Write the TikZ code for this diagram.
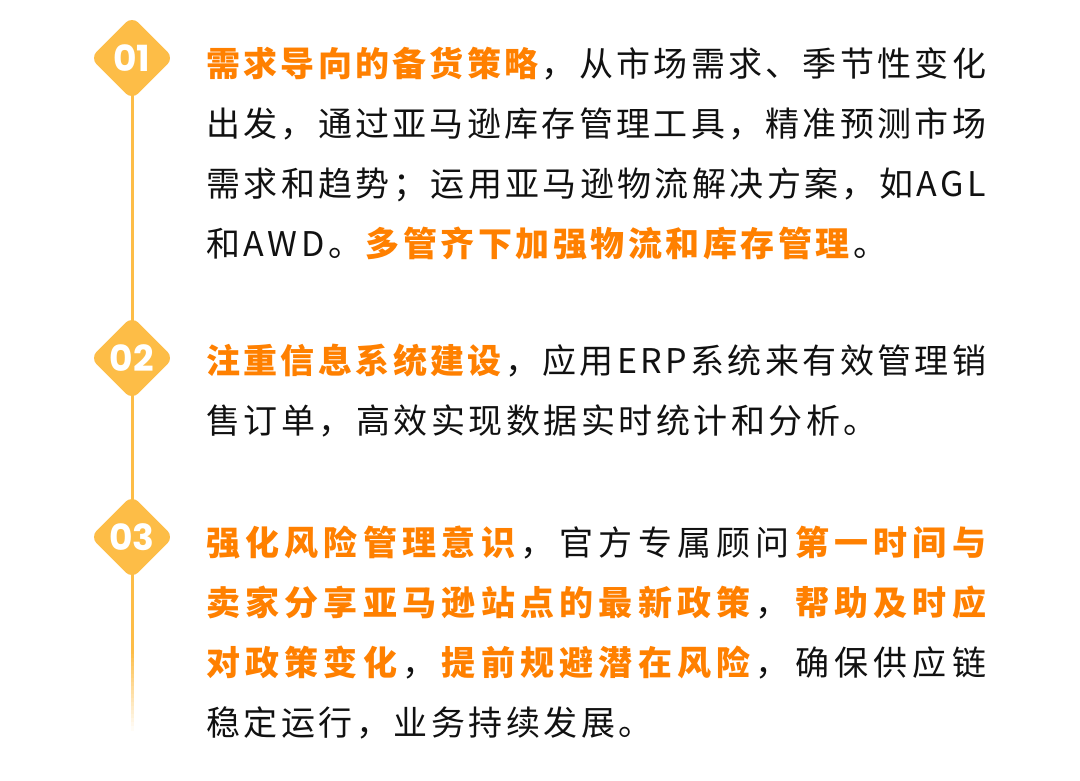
\documentclass[tikz,border=0pt]{standalone}
\usepackage{fontspec}
\setmainfont{Noto Sans CJK SC}
\newfontfamily\numfont{Poppins}
\definecolor{orn}{HTML}{FF8000}
\definecolor{txt}{HTML}{111111}
\definecolor{bcol}{HTML}{FDBD47}
\newif\iffirstch
\makeatletter
\def\trk{3.5pt}
\def\gl{\hskip\trk plus 1fil minus 1fil\relax}
\def\spr@end{\spr@end}
\def\spr#1{\spr@a#1\spr@end}
\def\spr@a#1{\ifx\spr@end#1\else\iffirstch\global\firstchfalse\else\gl\fi#1\expandafter\spr@a\fi}
\makeatother
\newcommand\ob[1]{{\bfseries\color{orn}\spr{#1}}}
\newcommand\nb[1]{{\color{txt}\spr{#1}}}
\newcommand\jline[1]{\global\firstchtrue\hbox to 780pt{#1}}
\newcommand\fline[1]{\global\firstchtrue\hbox{#1}}
\tikzset{
  ln/.style={anchor=base west, inner sep=0pt, font=\fontsize{34}{40}\selectfont},
  badge/.style={fill=bcol, minimum size=59pt, rounded corners=9pt, rotate=45, inner sep=0pt},
  num/.style={text=white, inner sep=0pt, font=\numfont\bfseries\fontsize{36}{40}\selectfont},
  tl/.style={line width=3pt}
}
\begin{document}
\begin{tikzpicture}[x=1pt,y=-1pt]
\useasboundingbox (0,0) rectangle (1080,780);
\fill[white] (0,0) rectangle (1080,780);
% timeline
\coordinate (t0) at (132,58);
\coordinate (t1) at (132,651);
\draw[tl, bcol] (t0) -- (t1);
\foreach \i in {0,...,19}{
  \pgfmathsetmacro\pc{100-5*\i}
  \draw[tl, bcol!\pc!white] (132,650+4*\i) -- (132,655+4*\i);
}
% badges
\node[badge] (b1) at (132,58) {};
\node[badge] (b2) at (132,358) {};
\node[badge] (b3) at (132,537) {};
\node[num] (n1) at (b1) {01};
\node[num] (n2) at (b2) {02};
\node[num] (n3) at (b3) {03};
% paragraph 1
\node[ln] (p1a) at (206,76) {\jline{\ob{需求导向的备货策略}\nb{，从市场需求、季节性变化}}};
\node[ln] (p1b) at (206,136) {\jline{\nb{出发，通过亚马逊库存管理工具，精准预测市场}}};
\node[ln] (p1c) at (206,196) {\jline{\nb{需求和趋势；运用亚马逊物流解决方案，如AGL}}};
\node[ln] (p1d) at (206,256) {\fline{\nb{和AWD。}\ob{多管齐下加强物流和库存管理}\nb{。}}};
% paragraph 2
\node[ln] (p2a) at (206,373) {\jline{\ob{注重信息系统建设}\nb{，应用ERP系统来有效管理销}}};
\node[ln] (p2b) at (206,433) {\fline{\nb{售订单，高效实现数据实时统计和分析。}}};
% paragraph 3
\node[ln] (p3a) at (206,555) {\jline{\ob{强化风险管理意识}\nb{，官方专属顾问}\ob{第一时间与}}};
\node[ln] (p3b) at (206,615) {\jline{\ob{卖家分享亚马逊站点的最新政策}\nb{，}\ob{帮助及时应}}};
\node[ln] (p3c) at (206,675) {\jline{\ob{对政策变化}\nb{，}\ob{提前规避潜在风险}\nb{，确保供应链}}};
\node[ln] (p3d) at (206,735) {\fline{\nb{稳定运行，业务持续发展。}}};
\end{tikzpicture}
\end{document}
